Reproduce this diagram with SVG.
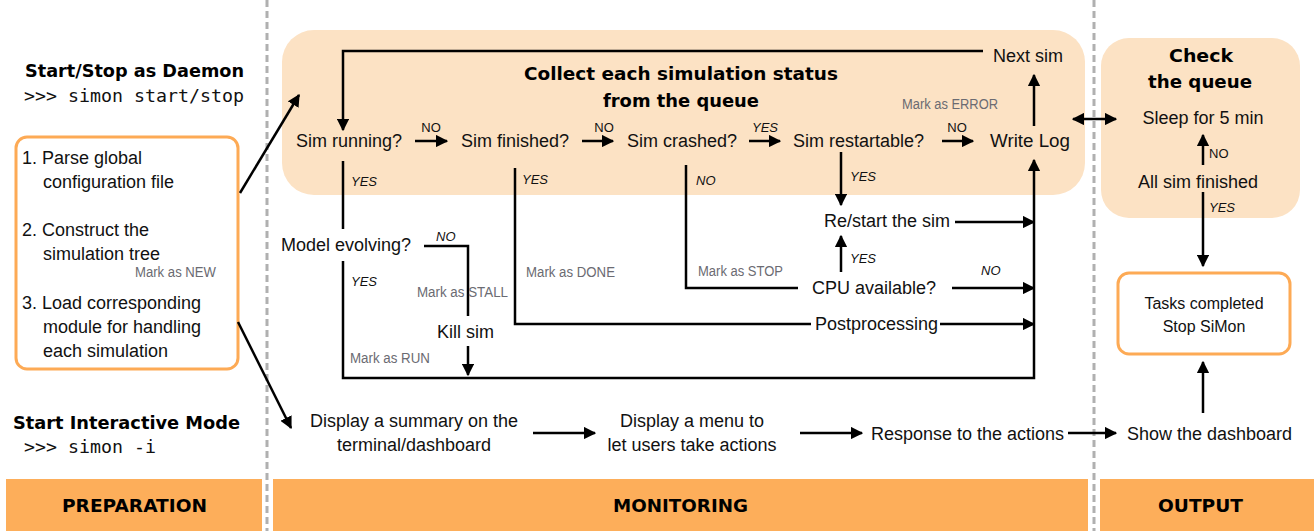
<svg xmlns="http://www.w3.org/2000/svg" width="1314" height="531" viewBox="0 0 1314 531">
<style>
.t{font-family:"Liberation Sans",Arial,sans-serif;font-size:18px;fill:#111}
.b{font-family:"DejaVu Sans","Liberation Sans",sans-serif;font-size:18px;font-weight:bold;fill:#000}
.m{font-family:"DejaVu Sans Mono","Liberation Mono",monospace;font-size:18px;fill:#111}
.g{font-family:"Liberation Sans",Arial,sans-serif;font-size:15.5px;fill:#6b6b72}
.s{font-family:"Liberation Sans",Arial,sans-serif;font-size:13px;fill:#111}
.si{font-family:"Liberation Sans",Arial,sans-serif;font-size:13px;font-style:italic;fill:#111}
.ln{stroke:#000;stroke-width:2.5;fill:none}
.ar{stroke:#000;stroke-width:2.5;fill:none;marker-end:url(#ah)}
.dash{stroke:#b0b0b0;stroke-width:3;stroke-dasharray:7 4}
.bar{fill:#FDAE5A}
.peach{fill:#FCE2C4}
.obox{fill:#fff;stroke:#FDAA55;stroke-width:3}
</style>
<defs>
<marker id="ah" viewBox="0 0 10 10" refX="9" refY="5" markerWidth="5" markerHeight="5" markerUnits="strokeWidth" orient="auto">
<path d="M0,0 L10,5 L0,10 z" fill="#000"/>
</marker>
<marker id="ahs" viewBox="0 0 10 10" refX="1" refY="5" markerWidth="5" markerHeight="5" markerUnits="strokeWidth" orient="auto">
<path d="M10,0 L0,5 L10,10 z" fill="#000"/>
</marker>
</defs>
<rect width="1314" height="531" fill="#fff"/>

<g id="lanes">
<line class="dash" x1="267" y1="0" x2="267" y2="531"/>
<line class="dash" x1="1094" y1="0" x2="1094" y2="531"/>
<rect class="bar" x="6" y="479" width="256" height="52"/>
<rect class="bar" x="273" y="479" width="815" height="52"/>
<rect class="bar" x="1100" y="479" width="214" height="52"/>
<text class="b" x="62" y="512" textLength="145" lengthAdjust="spacingAndGlyphs">PREPARATION</text>
<text class="b" x="613" y="512" textLength="135" lengthAdjust="spacingAndGlyphs">MONITORING</text>
<text class="b" x="1158" y="512" textLength="85" lengthAdjust="spacingAndGlyphs">OUTPUT</text>
</g>

<g id="monitor-box">
<rect class="peach" x="282" y="30" width="803" height="165" rx="32"/>
<text class="b" x="524" y="80" textLength="314" lengthAdjust="spacingAndGlyphs">Collect each simulation status</text>
<text class="b" x="603" y="107" textLength="156" lengthAdjust="spacingAndGlyphs">from the queue</text>
</g>
<g id="check-box">
<rect class="peach" x="1101" y="38" width="199" height="180" rx="28"/>
<text class="b" x="1169" y="62" textLength="64" lengthAdjust="spacingAndGlyphs">Check</text>
<text class="b" x="1148" y="88" textLength="104" lengthAdjust="spacingAndGlyphs">the queue</text>
</g>

<g id="daemon">
<text class="b" x="25" y="77" textLength="219" lengthAdjust="spacingAndGlyphs">Start/Stop as Daemon</text>
<text class="m" x="24" y="102" textLength="220" lengthAdjust="spacingAndGlyphs">&gt;&gt;&gt; simon start/stop</text>
</g>
<g id="prep-box">
<rect class="obox" x="16" y="137" width="222" height="232" rx="11"/>
<text class="t" x="22" y="164">1.  Parse global</text>
<text class="t" x="43" y="188">configuration file</text>
<text class="t" x="22" y="236">2.  Construct the</text>
<text class="t" x="43" y="260">simulation tree</text>
<text class="g" x="135" y="277" textLength="81" lengthAdjust="spacingAndGlyphs">Mark as NEW</text>
<text class="t" x="22" y="309">3. Load corresponding</text>
<text class="t" x="43" y="333">module for handling</text>
<text class="t" x="43" y="357">each simulation</text>
</g>
<g id="interactive">
<text class="b" x="13" y="429" textLength="227" lengthAdjust="spacingAndGlyphs">Start Interactive Mode</text>
<text class="m" x="24" y="453" textLength="132" lengthAdjust="spacingAndGlyphs">&gt;&gt;&gt; simon -i</text>
</g>

<g id="nodes">
<g id="next-sim"><text class="t" x="993" y="62">Next sim</text></g>
<g id="sim-running"><text class="t" x="296" y="147">Sim running?</text></g>
<g id="sim-finished"><text class="t" x="461" y="147">Sim finished?</text></g>
<g id="sim-crashed"><text class="t" x="627" y="147">Sim crashed?</text></g>
<g id="sim-restartable"><text class="t" x="793" y="147">Sim restartable?</text></g>
<g id="write-log"><text class="t" x="990" y="147" textLength="80" lengthAdjust="spacingAndGlyphs">Write Log</text></g>
<g id="mark-error"><text class="g" x="902" y="109" textLength="96" lengthAdjust="spacingAndGlyphs">Mark as ERROR</text></g>
<g id="model-evolving"><text class="t" x="281" y="251">Model evolving?</text></g>
<g id="kill-sim"><text class="t" x="437" y="338">Kill sim</text></g>
<g id="restart-sim"><text class="t" x="824" y="227">Re/start the sim</text></g>
<g id="cpu"><text class="t" x="812" y="294">CPU available?</text></g>
<g id="post"><text class="t" x="815" y="330">Postprocessing</text></g>
<g id="sleep"><text class="t" x="1203" y="124" text-anchor="middle">Sleep for 5 min</text></g>
<g id="all-finished"><text class="t" x="1198" y="188" text-anchor="middle">All sim finished</text></g>
<g id="tasks-box">
<rect class="obox" x="1118" y="273" width="172" height="81" rx="11"/>
<text class="t" x="1204" y="309" text-anchor="middle" style="font-size:16px">Tasks completed</text>
<text class="t" x="1204" y="332" text-anchor="middle" style="font-size:16px">Stop SiMon</text>
</g>
<g id="summary">
<text class="t" x="414" y="427" text-anchor="middle">Display a summary on the</text>
<text class="t" x="414" y="451" text-anchor="middle">terminal/dashboard</text>
</g>
<g id="menu">
<text class="t" x="692" y="427" text-anchor="middle">Display a menu to</text>
<text class="t" x="692" y="451" text-anchor="middle">let users take actions</text>
</g>
<g id="response"><text class="t" x="871" y="440">Response to the actions</text></g>
<g id="show-dash"><text class="t" x="1127" y="440">Show the dashboard</text></g>
</g>

<g id="connectors">
<line class="ar" x1="240" y1="193" x2="299" y2="95"/>
<line class="ar" x1="238" y1="322" x2="291" y2="428"/>
<polyline class="ar" points="983,51 343,51 343,130"/>
<line class="ar" x1="415" y1="141" x2="447" y2="141"/>
<text class="s" x="431" y="132" text-anchor="middle">NO</text>
<line class="ar" x1="582" y1="141" x2="613" y2="141"/>
<text class="s" x="604" y="132" text-anchor="middle">NO</text>
<line class="ar" x1="749" y1="141" x2="780" y2="141"/>
<text class="si" x="765" y="132" text-anchor="middle">YES</text>
<line class="ar" x1="942" y1="141" x2="973" y2="141"/>
<text class="s" x="957" y="132" text-anchor="middle">NO</text>
<line class="ar" x1="1034" y1="126" x2="1034" y2="75"/>
<line class="ar" x1="1073" y1="119" x2="1116" y2="119" marker-start="url(#ahs)"/>

<line class="ln" x1="343" y1="161" x2="343" y2="229"/>
<text class="si" x="351" y="186">YES</text>
<polyline class="ar" points="343,261 343,378 1034,378 1034,160"/>
<text class="si" x="351" y="286">YES</text>
<text class="g" x="350" y="363" textLength="80" lengthAdjust="spacingAndGlyphs">Mark as RUN</text>
<polyline class="ln" points="424,246 468,246 468,316"/>
<text class="si" x="436" y="241">NO</text>
<text class="g" x="417" y="297" textLength="91" lengthAdjust="spacingAndGlyphs">Mark as STALL</text>
<line class="ar" x1="468" y1="346" x2="468" y2="375"/>

<polyline class="ln" points="515,168 515,324 811,324"/>
<text class="si" x="522" y="184">YES</text>
<text class="g" x="526" y="277" textLength="89" lengthAdjust="spacingAndGlyphs">Mark as DONE</text>
<line class="ar" x1="940" y1="324" x2="1034" y2="324"/>

<polyline class="ln" points="686,165 686,288 798,288"/>
<text class="si" x="696" y="185">NO</text>
<text class="g" x="698" y="276" textLength="85" lengthAdjust="spacingAndGlyphs">Mark as STOP</text>
<line class="ar" x1="952" y1="288" x2="1034" y2="288"/>
<text class="si" x="981" y="275">NO</text>

<line class="ar" x1="841" y1="152" x2="841" y2="205"/>
<text class="si" x="850" y="181">YES</text>
<line class="ar" x1="955" y1="222" x2="1034" y2="222"/>
<line class="ar" x1="841" y1="272" x2="841" y2="236"/>
<text class="si" x="850" y="263">YES</text>

<line class="ar" x1="1203" y1="165" x2="1203" y2="135"/>
<text class="s" x="1209" y="158">NO</text>
<line class="ar" x1="1203" y1="192" x2="1203" y2="266"/>
<text class="si" x="1209" y="212">YES</text>

<line class="ar" x1="533" y1="433" x2="595" y2="433"/>
<line class="ar" x1="800" y1="433" x2="862" y2="433"/>
<line class="ar" x1="1068" y1="433" x2="1116" y2="433"/>
<line class="ar" x1="1203" y1="413" x2="1203" y2="362"/>
</g>
</svg>
